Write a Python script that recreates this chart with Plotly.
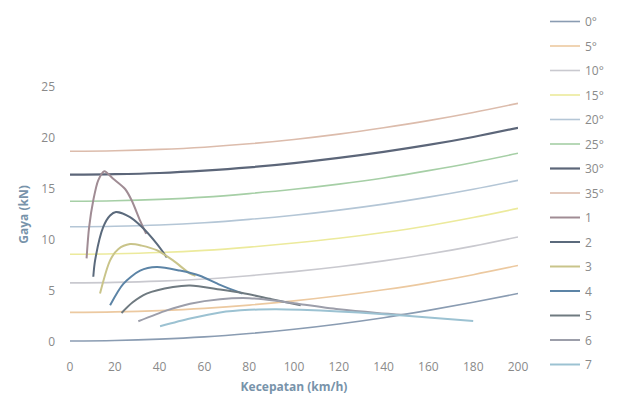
import plotly.graph_objects as go

# Speed grid for slope-resistance curves (km/h)
speed_grid = [0, 20, 40, 60, 80, 100, 120, 140, 160, 180, 200]

# Resistance force at each slope angle (kN)
slope_0 = [0.1, 0.15, 0.28, 0.5, 0.83, 1.25, 1.77, 2.38, 3.1, 3.9, 4.75]
slope_5 = [2.9, 2.95, 3.08, 3.3, 3.62, 4.03, 4.53, 5.12, 5.8, 6.6, 7.5]
slope_10 = [5.8, 5.85, 5.97, 6.18, 6.5, 6.9, 7.38, 7.95, 8.62, 9.4, 10.3]
slope_15 = [8.6, 8.65, 8.77, 8.98, 9.3, 9.7, 10.17, 10.74, 11.4, 12.2, 13.1]
slope_20 = [11.3, 11.35, 11.47, 11.69, 12.02, 12.43, 12.93, 13.52, 14.2, 14.98, 15.85]
slope_25 = [13.8, 13.85, 13.98, 14.2, 14.55, 14.97, 15.48, 16.08, 16.8, 17.6, 18.5]
slope_30 = [16.4, 16.45, 16.57, 16.8, 17.12, 17.54, 18.05, 18.64, 19.32, 20.1, 21.0]
slope_35 = [18.7, 18.75, 18.88, 19.1, 19.43, 19.86, 20.38, 21.0, 21.7, 22.5, 23.4]

# Traction force per gear
gear1_v = [7.4, 8.5, 10.4, 12.6, 15.3, 19.3, 24.6, 27.5, 31.3, 34]
gear1_f = [8.2, 11.2, 13.9, 15.85, 16.75, 16.0, 15.0, 13.9, 11.9, 10.6]
gear2_v = [10.4, 11.2, 14.9, 17.9, 20.5, 26.8, 32, 38.7, 43.2]
gear2_f = [6.4, 8.0, 11.3, 12.4, 12.75, 12.25, 11.3, 9.65, 8.3]
gear3_v = [13.4, 17.9, 21.5, 26.8, 32, 38.7, 46, 53.6, 56]
gear3_f = [4.75, 8.0, 9.1, 9.6, 9.45, 9.0, 8.0, 6.7, 6.5]
gear4_v = [17.9, 23.8, 31.3, 38.7, 49, 58, 67, 77]
gear4_f = [3.6, 5.7, 7.0, 7.35, 7.0, 6.5, 5.6, 4.75]
gear5_v = [23, 28, 34.2, 46, 53.6, 67, 77, 90, 103]
gear5_f = [2.85, 3.9, 4.75, 5.4, 5.55, 5.15, 4.8, 4.2, 3.6]
gear6_v = [30.5, 43.2, 53.6, 67, 80, 92, 103, 120, 137, 150]
gear6_f = [2.03, 3.1, 3.76, 4.2, 4.3, 4.05, 3.7, 3.2, 2.85, 2.65]
gear7_v = [40.2, 53.6, 67, 80, 92, 103, 120, 137, 160, 180]
gear7_f = [1.54, 2.3, 2.9, 3.15, 3.2, 3.15, 3.0, 2.78, 2.4, 2.06]

slope_names = ["0°", "5°", "10°", "15°", "20°", "25°", "30°", "35°"]
slope_data = [slope_0, slope_5, slope_10, slope_15, slope_20, slope_25, slope_30, slope_35]
slope_colors = ["#8a9cb2", "#ecc9a0", "#c9c9cf", "#ecea9c", "#b4c6d6",
                "#a6cfa6", "#5c6679", "#dcbcac"]
slope_widths = [1.6, 1.6, 1.6, 1.6, 1.6, 1.6, 2.2, 1.6]

gear_names = ["1", "2", "3", "4", "5", "6", "7"]
gear_data = [(gear1_v, gear1_f), (gear2_v, gear2_f), (gear3_v, gear3_f),
             (gear4_v, gear4_f), (gear5_v, gear5_f), (gear6_v, gear6_f),
             (gear7_v, gear7_f)]
gear_colors = ["#a08c94", "#5b6a7c", "#c9c48a", "#5c84a6", "#6f7a80",
               "#9c9eaa", "#9cc2d2"]

fig = go.Figure()
for i, (name, ys) in enumerate(zip(slope_names, slope_data)):
    fig.add_trace(go.Scatter(x=speed_grid, y=ys, mode="lines", name=name,
                             legendgroup=f"g{i}",
                             line=dict(color=slope_colors[i], width=slope_widths[i],
                                       shape="spline")))
for j, (name, (vs, fs)) in enumerate(zip(gear_names, gear_data)):
    fig.add_trace(go.Scatter(x=vs, y=fs, mode="lines", name=name,
                             legendgroup=f"h{j}",
                             line=dict(color=gear_colors[j], width=2,
                                       shape="spline", smoothing=0.8)))

font_family = "Open Sans, Liberation Sans, sans-serif"
fig.update_layout(
    width=624, height=403,
    margin=dict(l=70, r=106, t=87, b=61, autoexpand=False),
    paper_bgcolor="white", plot_bgcolor="white",
    font=dict(family=font_family, size=12, color="#8a8a8a"),
    legend=dict(x=545 / 624, y=1 - 7 / 403, xanchor="left", yanchor="top",
                yref="container", xref="container", maxheight=403,
                font=dict(size=12, color="#8a8a8a"),
                traceorder="grouped", tracegroupgap=5.5,
                itemwidth=30, bgcolor="rgba(0,0,0,0)"),
    showlegend=True,
)
fig.update_xaxes(range=[0, 200], tickvals=[0, 20, 40, 60, 80, 100, 120, 140, 160, 180, 200],
                 showgrid=False, zeroline=False, showline=False,
                 ticklabelstandoff=16,
                 title=dict(text="<b>Kecepatan (km/h)</b>",
                            font=dict(color="#7893aa", size=12), standoff=8))
fig.update_yaxes(range=[0, 25], tickvals=[0, 5, 10, 15, 20, 25],
                 showgrid=False, zeroline=False, showline=False,
                 ticklabelstandoff=14,
                 title=dict(text="<b>Gaya (kN)</b>",
                            font=dict(color="#7893aa", size=12), standoff=10))

fig.write_html("out.html")
